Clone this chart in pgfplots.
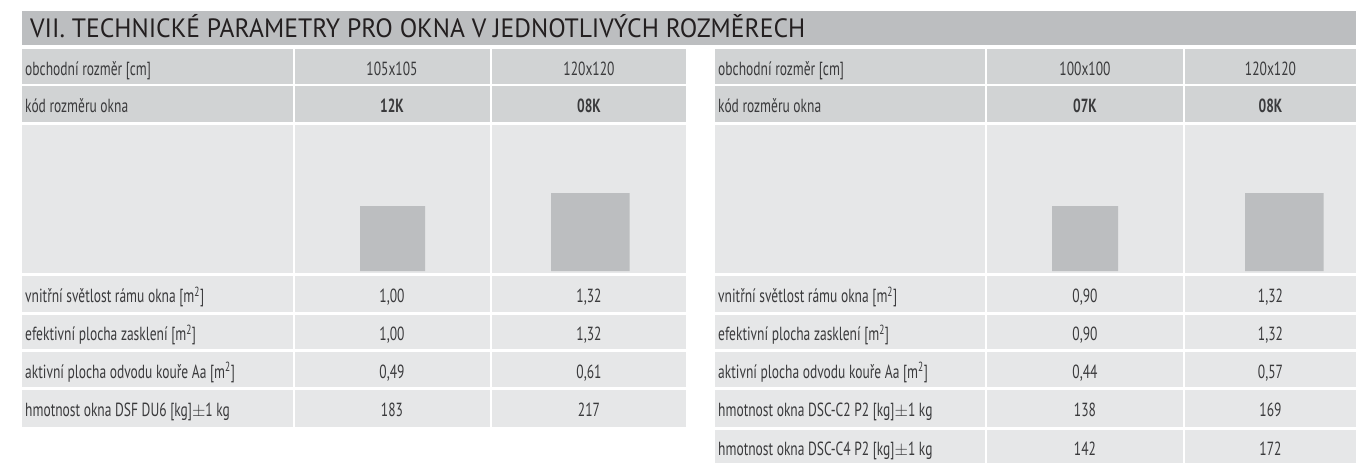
\documentclass[border=0pt]{standalone}
\usepackage{pgfplots}
\pgfplotsset{compat=1.18}
\usepackage{fontspec}
\setmainfont{PT Sans}[FakeStretch=0.71]
\newfontfamily\titlefont{PT Sans}[FakeStretch=0.965]
\definecolor{titlebg}{HTML}{BCBEC0}
\definecolor{headbg}{HTML}{D1D3D4}
\definecolor{bodybg}{HTML}{E6E7E8}
\definecolor{sqc}{HTML}{BCBEC0}
\definecolor{txt}{HTML}{3A3A3C}
\definecolor{ttxt}{HTML}{231F20}
\newcommand\colcells[2]{%
  \fill[headbg] (axis cs:#1,49) rectangle (axis cs:#2,84);
  \fill[headbg] (axis cs:#1,86) rectangle (axis cs:#2,122);
  \fill[bodybg] (axis cs:#1,125) rectangle (axis cs:#2,273);
  \fill[bodybg] (axis cs:#1,276) rectangle (axis cs:#2,312);
  \fill[bodybg] (axis cs:#1,315) rectangle (axis cs:#2,349);
  \fill[bodybg] (axis cs:#1,352) rectangle (axis cs:#2,387);
  \fill[bodybg] (axis cs:#1,390) rectangle (axis cs:#2,427);
}
\begin{document}
\begin{tikzpicture}
\begin{axis}[width=1356pt, height=463pt, scale only axis,
  xmin=0, xmax=1356, ymin=0, ymax=463, y dir=reverse,
  hide axis, clip=false]
% background
\fill[white] (axis cs:0,0) rectangle (axis cs:1356,463);
% title bar
\fill[titlebg] (axis cs:22,11) rectangle (axis cs:1356,45);
\node[anchor=base west, font=\titlefont\fontsize{26.5}{28}\selectfont, text=ttxt, inner sep=0pt] at (axis cs:30,37.5) {VII. TECHNICKÉ PARAMETRY PRO OKNA V JEDNOTLIVÝCH ROZMĚRECH};
% left table cells
\colcells{22}{293}
\colcells{295}{490}
\colcells{492}{686}
% right table cells
\colcells{715}{985}
\colcells{987}{1183}
\colcells{1185}{1356}
\fill[bodybg] (axis cs:715,430) rectangle (axis cs:985,463);
\fill[bodybg] (axis cs:987,430) rectangle (axis cs:1183,463);
\fill[bodybg] (axis cs:1185,430) rectangle (axis cs:1356,463);
% window squares (size of window drawn to scale)
\addplot[fill=sqc, draw=none] coordinates {(360,206) (425,206) (425,271) (360,271) (360,206)};
\addplot[fill=sqc, draw=none] coordinates {(551,193) (629.5,193) (629.5,271) (551,271) (551,193)};
\addplot[fill=sqc, draw=none] coordinates {(1052,206) (1118,206) (1118,271) (1052,271) (1052,206)};
\addplot[fill=sqc, draw=none] coordinates {(1245,193) (1323.5,193) (1323.5,271) (1245,271) (1245,193)};
% text
\tikzset{lab/.style={anchor=base west, inner sep=0pt, text=txt, font=\fontsize{19}{21}\selectfont},
         val/.style={anchor=base, inner sep=0pt, text=txt, font=\fontsize{19}{21}\selectfont}}
% left table
\node[lab] at (axis cs:25,75) {obchodní rozměr [cm]};
\node[val] at (axis cs:392,75) {105x105};
\node[val] at (axis cs:589,75) {120x120};
\node[lab] at (axis cs:25,112) {kód rozměru okna};
\node[val] at (axis cs:392,112) {\bfseries 12K};
\node[val] at (axis cs:589,112) {\bfseries 08K};
\node[lab] at (axis cs:25,302.5) {vnitřní světlost rámu okna [m\textsuperscript{2}]};
\node[val] at (axis cs:392,302.5) {1,00};
\node[val] at (axis cs:589,302.5) {1,32};
\node[lab] at (axis cs:25,340.5) {efektivní plocha zasklení [m\textsuperscript{2}]};
\node[val] at (axis cs:392,340.5) {1,00};
\node[val] at (axis cs:589,340.5) {1,32};
\node[lab] at (axis cs:25,378) {aktivní plocha odvodu kouře Aa [m\textsuperscript{2}]};
\node[val] at (axis cs:392,378) {0,49};
\node[val] at (axis cs:589,378) {0,61};
\node[lab] at (axis cs:25,416.5) {hmotnost okna DSF DU6 [kg]$\pm$1 kg};
\node[val] at (axis cs:392,416.5) {183};
\node[val] at (axis cs:589,416.5) {217};
% right table
\node[lab] at (axis cs:718,75) {obchodní rozměr [cm]};
\node[val] at (axis cs:1085,75) {100x100};
\node[val] at (axis cs:1270.5,75) {120x120};
\node[lab] at (axis cs:718,112) {kód rozměru okna};
\node[val] at (axis cs:1085,112) {\bfseries 07K};
\node[val] at (axis cs:1270.5,112) {\bfseries 08K};
\node[lab] at (axis cs:718,302.5) {vnitřní světlost rámu okna [m\textsuperscript{2}]};
\node[val] at (axis cs:1085,302.5) {0,90};
\node[val] at (axis cs:1270.5,302.5) {1,32};
\node[lab] at (axis cs:718,340.5) {efektivní plocha zasklení [m\textsuperscript{2}]};
\node[val] at (axis cs:1085,340.5) {0,90};
\node[val] at (axis cs:1270.5,340.5) {1,32};
\node[lab] at (axis cs:718,378) {aktivní plocha odvodu kouře Aa [m\textsuperscript{2}]};
\node[val] at (axis cs:1085,378) {0,44};
\node[val] at (axis cs:1270.5,378) {0,57};
\node[lab] at (axis cs:718,416.5) {hmotnost okna DSC-C2 P2 [kg]$\pm$1 kg};
\node[val] at (axis cs:1085,416.5) {138};
\node[val] at (axis cs:1270.5,416.5) {169};
\node[lab] at (axis cs:718,455) {hmotnost okna DSC-C4 P2 [kg]$\pm$1 kg};
\node[val] at (axis cs:1085,455) {142};
\node[val] at (axis cs:1270.5,455) {172};
\end{axis}
\end{tikzpicture}
\end{document}
